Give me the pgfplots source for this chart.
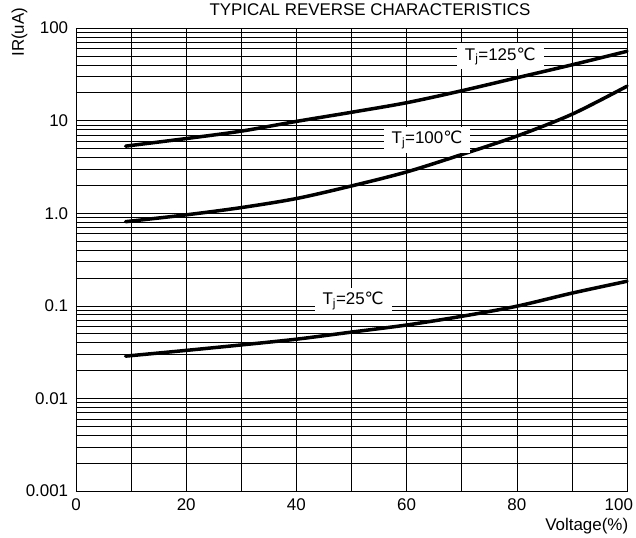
\documentclass[border=0pt]{standalone}
\usepackage{fontspec}
\setmainfont{Liberation Sans}
\newfontfamily\dejavu{DejaVu Sans}
\usepackage{pgfplots}
\pgfplotsset{compat=1.18}

\begin{document}
\fontsize{17}{19}\selectfont
\begin{tikzpicture}
\useasboundingbox (-76bp,-47bp) rectangle (560bp,491bp);
\begin{axis}[
  at={(0,0)}, anchor=south west,
  scale only axis, width=551bp, height=463bp,
  xmin=0, xmax=100, ymin=0.001, ymax=100,
  ymode=log,
  xtick={0,20,40,60,80,100},
  xticklabels={0,20,40,60,80,{\hspace{12bp}\makebox[0pt][r]{100}}},
  minor xtick={10,30,50,70,90},
  ytick={0.001,0.01,0.1,1,10,100},
  yticklabels={0.001,0.01,0.1,1.0,10,100},
  minor ytick={0.002,0.003,0.004,0.005,0.006,0.007,0.008,0.009,
               0.02,0.03,0.04,0.05,0.06,0.07,0.08,0.09,
               0.2,0.3,0.4,0.5,0.6,0.7,0.8,0.9,
               2,3,4,5,6,7,8,9,
               20,30,40,50,60,70,80,90},
  grid=both,
  major grid style={black, line width=0.6bp},
  minor grid style={black, line width=0.6bp},
  major tick length=0pt, minor tick length=0pt,
  axis line style={black, line width=0.8bp},
  tick label style={font=\fontsize{17}{19}\selectfont},
  yticklabel style={xshift=-2bp},
  xticklabel style={yshift=-2bp},
  /pgf/number format/assume math mode=true,
  clip=false,
]
\addplot[black, line width=3.5bp, smooth, line cap=round] coordinates {
 (9,5.3) (20,6.4) (30,7.7) (40,9.8) (50,12.3) (60,15.6) (70,21) (80,29) (90,40) (100,56)};
\addplot[black, line width=3.5bp, smooth, line cap=round] coordinates {
 (9,0.81) (20,0.96) (30,1.15) (40,1.44) (50,1.97) (60,2.79) (70,4.3) (80,6.8) (90,11.7) (100,23.5)};
\addplot[black, line width=3.5bp, smooth, line cap=round] coordinates {
 (9,0.0286) (20,0.033) (30,0.0378) (40,0.0436) (50,0.052) (60,0.062) (70,0.077) (80,0.099) (90,0.137) (100,0.184)};

\node[fill=white, inner xsep=8bp, inner ysep=4bp] at (axis cs:77,49.5) {T\textsubscript{j}=125{\dejavu ℃}};
\node[fill=white, inner xsep=8bp, inner ysep=4bp] at (axis cs:63.7,6.14) {T\textsubscript{j}=100{\dejavu ℃}};
\node[fill=white, inner xsep=8bp, inner ysep=4bp] at (axis cs:50.3,0.112) {T\textsubscript{j}=25{\dejavu ℃}};

\node[anchor=base] at (rel axis cs:0.5336,1) [yshift=12bp] {TYPICAL REVERSE CHARACTERISTICS};
\node[anchor=base east] at (rel axis cs:1,0) [xshift=7bp, yshift=-39bp] {Voltage(\%)};
\node[xshift=-52bp, rotate=90, anchor=base] at (rel axis cs:0,0.991) {IR(uA)};
\end{axis}
\end{tikzpicture}
\end{document}
